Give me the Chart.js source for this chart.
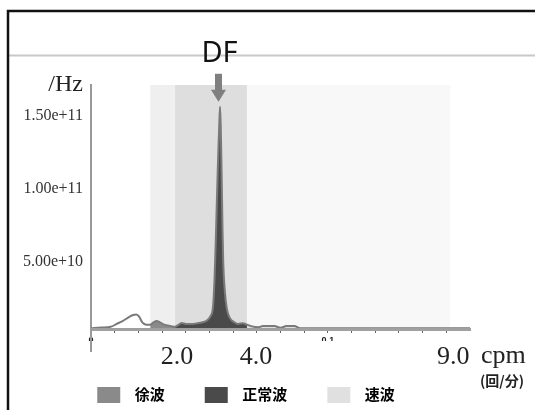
<!DOCTYPE html>
<html>
<head>
<meta charset="utf-8">
<script src="https://cdn.jsdelivr.net/npm/chart.js@4/dist/chart.umd.min.js"></script>
<style>
html,body{margin:0;padding:0;background:#fff;}
#wrap{width:535px;height:410px;position:relative;}
</style>
</head>
<body>
<div id="wrap"><canvas id="c"></canvas></div>
<script>
// ---- data (frequency in cpm, power per Hz) ----
const spectrumCpm = [0.00,0.25,0.50,0.65,0.80,0.95,1.05,1.15,1.22,1.30,1.40,1.50,1.58,1.66,1.75,1.85,1.95,2.05,2.13,
  2.22,2.30,2.40,2.55,2.70,2.85,2.95,3.03,3.09,3.13,3.16,3.19,3.22,3.25,3.27,3.29,3.31,3.33,3.35,3.39,3.44,3.52,3.62,3.72,3.85,3.95,
  4.05,4.25,4.35,4.65,4.80,4.95,5.15,5.30,6.00,9.10,9.60];
const spectrumPower = [0.05e10,0.10e10,0.15e10,0.35e10,0.55e10,0.80e10,0.95e10,1.00e10,0.85e10,0.45e10,0.30e10,0.30e10,0.45e10,0.55e10,0.45e10,0.30e10,0.25e10,0.18e10,0.15e10,
  0.30e10,0.42e10,0.35e10,0.35e10,0.40e10,0.48e10,0.62e10,0.90e10,1.50e10,3.50e10,6.00e10,9.00e10,11.8e10,14.2e10,15.3e10,13.5e10,10.5e10,7.00e10,4.50e10,2.60e10,1.40e10,0.75e10,0.48e10,0.35e10,0.40e10,0.30e10,
  0.20e10,0.12e10,0.20e10,0.20e10,0.08e10,0.20e10,0.20e10,0.05e10,0.05e10,0.05e10,0.05e10];

const waveNames = ['徐波','正常波','速波'];
const bandEdges = [1.50, 2.13, 3.95, 9.10];      // band limits in cpm
const xTickCpm = [0,0.6,1.2,1.8,2.4,3.0,3.6,4.2,4.8,5.4,6.0,6.6,7.2,7.8,8.4,9.0];
const xTickLabels = ['0','','','','','','','','','','0.1','','','','',''];
const cpmMarks = [2.0,4.0,9.0];
const cpmMarkLabels = ['2.0','4.0','9.0'];
const yTicks = [5e10,1e11,1.5e11];
const peakLabel = 'DF';
const yUnit = '/Hz';
const xUnit = 'cpm';
const xUnitSub = '(回/分)';

// ---- styles ----
const waveColors = ['#8a8a8a','#4a4a4a','#e0e0e0'];
const bandColors = ['#efefef','#dedede','#f8f8f8'];
const SERIF = '"Liberation Serif","Times New Roman",serif';
const CJK = '"Noto Sans CJK JP","Noto Sans CJK SC",sans-serif';

const points = spectrumCpm.map((x,i)=>({x:x, y:spectrumPower[i]}));
function inBand(i){ return points.filter(p => p.x >= bandEdges[i] - 1e-9 && p.x <= bandEdges[i+1] + 1e-9); }

const lineOpts = {pointRadius:0, tension:0.25, cubicInterpolationMode:'monotone'};
const datasets = [
  Object.assign({data:points, borderColor:'#7a7a7a', borderWidth:2, fill:false}, lineOpts)
];
waveNames.forEach((name,i)=>{
  datasets.push(Object.assign({label:name, data:inBand(i), borderWidth:0, borderColor:'rgba(0,0,0,0)',
    backgroundColor:waveColors[i], fill:'origin'}, lineOpts));
});

function swatch(color){
  const cv = document.createElement('canvas');
  cv.width = 52; cv.height = 16;
  const g = cv.getContext('2d');
  g.fillStyle = color; g.fillRect(22, 0, 23, 16);
  return cv;
}

const decor = {
  id:'decor',
  beforeDraw(chart){
    const c = chart.ctx;
    c.save();
    c.fillStyle = '#fff'; c.fillRect(0,0,chart.width,chart.height);
    c.strokeStyle = '#c8c8c8'; c.lineWidth = 2;
    c.beginPath(); c.moveTo(8,55.5); c.lineTo(chart.width,55.5); c.stroke();
    c.strokeStyle = '#111'; c.lineWidth = 2.5;
    c.beginPath(); c.moveTo(8,chart.height); c.lineTo(8,11); c.lineTo(chart.width,11); c.stroke();
    c.restore();
  },
  beforeDatasetsDraw(chart){
    const c = chart.ctx, xs = chart.scales.x, a = chart.chartArea;
    c.save();
    for (let i=0;i<bandColors.length;i++){
      const x0 = xs.getPixelForValue(bandEdges[i]), x1 = xs.getPixelForValue(bandEdges[i+1]);
      c.fillStyle = bandColors[i];
      c.fillRect(x0, a.top, x1-x0, a.bottom-a.top);
    }
    c.restore();
  },
  afterDatasetsDraw(chart){
    const c = chart.ctx, xs = chart.scales.x, ys = chart.scales.y;
    let k = 0; spectrumPower.forEach((v,i)=>{ if (v > spectrumPower[k]) k = i; });
    const px = Math.round(xs.getPixelForValue(spectrumCpm[k])) - 1.5;
    const tip = ys.getPixelForValue(spectrumPower[k]) - 5;
    c.save();
    c.fillStyle = '#7f7f7f';
    c.fillRect(px-3.5, tip-28, 7, 17);
    c.beginPath(); c.moveTo(px-7.5, tip-12); c.lineTo(px+7.5, tip-12); c.lineTo(px, tip); c.closePath(); c.fill();
    c.fillStyle = '#111';
    c.font = '29px "Noto Sans","Open Sans",sans-serif';
    c.textAlign = 'center'; c.textBaseline = 'alphabetic';
    c.fillText(peakLabel, px+1, 62);
    c.restore();
  },
  afterDraw(chart){
    const c = chart.ctx, xs = chart.scales.x, ys = chart.scales.y, a = chart.chartArea;
    c.save();
    c.strokeStyle = '#999'; c.lineWidth = 2;
    c.beginPath(); c.moveTo(a.left, a.bottom); c.lineTo(a.left, a.bottom+23); c.stroke();
    c.fillStyle = '#222';
    c.font = '24px ' + SERIF; c.textAlign = 'right'; c.textBaseline = 'alphabetic';
    c.fillText(yUnit, ys.right - 8, a.top + 6);
    c.font = '26px ' + SERIF; c.textAlign = 'left';
    c.fillText(xUnit, xs.right + 11, 363);
    c.font = 'bold 14px ' + CJK; c.textAlign = 'center'; c.textBaseline = 'middle';
    c.fillText(xUnitSub, xs.right + 32, 381);
    c.restore();
  }
};

new Chart(document.getElementById('c'), {
  type:'line',
  data:{datasets:datasets},
  plugins:[decor],
  options:{
    responsive:true, maintainAspectRatio:false, animation:false,
    layout:{padding:{left:0,right:65,top:85,bottom:-2}},
    plugins:{
      tooltip:{enabled:false},
      title:{display:false},
      legend:{
        position:'bottom', align:'center',
        labels:{
          usePointStyle:true, pointStyleWidth:52, padding:18, color:'#333',
          font:{family:CJK, size:15, weight:'bold'},
          generateLabels(chart){
            return chart.data.datasets.map((ds,i)=>({
              text:ds.label, fillStyle:ds.backgroundColor, strokeStyle:ds.backgroundColor,
              lineWidth:0, hidden:false, datasetIndex:i, pointStyle:swatch(ds.backgroundColor)
            })).filter(it=>it.text);
          }
        }
      }
    },
    scales:{
      x:{
        type:'linear', position:'bottom', min:0, max:9.6, weight:0,
        afterBuildTicks(s){ s.ticks = xTickCpm.map(v=>({value:v})); },
        afterFit(s){ s.height = 12; },
        grid:{drawOnChartArea:false, drawTicks:true, tickLength:4, color:'#666', lineWidth:1},
        border:{display:true, color:'#a0a0a0', width:3, z:1},
        ticks:{autoSkip:false, maxRotation:0, padding:2, color:'#222',
          font:{family:'"Liberation Sans",sans-serif', size:9, weight:'bold'},
          callback:(v,i)=>xTickLabels[i]}
      },
      x2:{
        type:'linear', position:'bottom', min:0, max:9.6, weight:1,
        afterBuildTicks(s){ s.ticks = cpmMarks.map(v=>({value:v})); },
        afterFit(s){ s.height = 28; },
        grid:{display:false, drawTicks:false},
        border:{display:false},
        ticks:{autoSkip:false, maxRotation:0, padding:1, labelOffset:7, color:'#222',
          font:{family:SERIF, size:26},
          callback:(v,i)=>cpmMarkLabels[i]}
      },
      y:{
        type:'linear', min:0, max:1.68e11,
        afterBuildTicks(s){ s.ticks = yTicks.map(v=>({value:v})); },
        afterFit(s){ s.width = 91; },
        grid:{drawOnChartArea:false, drawTicks:false},
        border:{display:true, color:'#999', width:2},
        ticks:{padding:8, labelOffset:5, color:'#333', font:{family:SERIF, size:16},
          callback:(v)=>Number(v).toExponential(2)}
      }
    }
  }
});
</script>
</body>
</html>
